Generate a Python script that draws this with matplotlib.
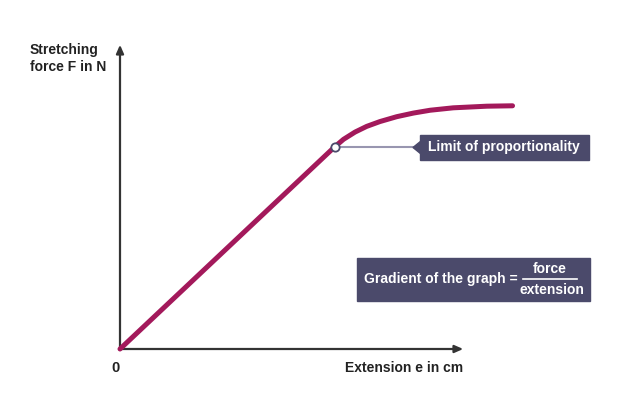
import matplotlib.pyplot as plt
from matplotlib.patches import Polygon

# force-extension curve (arbitrary units)
extension = [0, 5.0, 5.21, 5.48, 5.75, 6.06, 6.45, 6.84, 7.23, 7.77, 8.55, 9.15]
force = [0, 5.0, 5.19, 5.37, 5.51, 5.63, 5.75, 5.84, 5.91, 5.97, 6.01, 6.02]
limit_e = 5.0
limit_f = 5.0

x_label = "Extension e in cm"
y_label = "Stretching\nforce F in N"
limit_label = "Limit of proportionality"

curve_col = "#a3195b"
box_col = "#4b4a6b"
axis_col = "#333333"
fs = 10

plt.rcParams['font.family'] = ['Liberation Sans', 'DejaVu Sans']

fig = plt.figure(figsize=(6.24, 4.11), dpi=100)
ax = fig.add_axes([0, 0, 1, 1])
# pixel scale: 42.9 px per x unit, 40.4 px per y unit, origin at (120, 349)
ax.set_xlim(-120 / 42.9, 504 / 42.9)
ax.set_ylim(-62 / 40.4, 349 / 40.4)
ax.axis('off')

# axes with arrow heads
ax.annotate("", xy=(8.0, 0), xytext=(0, 0),
            arrowprops=dict(arrowstyle="-|>,head_length=0.5,head_width=0.22",
                            color=axis_col, lw=1.6, shrinkA=0, shrinkB=0))
ax.annotate("", xy=(0, 7.53), xytext=(0, 0),
            arrowprops=dict(arrowstyle="-|>,head_length=0.5,head_width=0.22",
                            color=axis_col, lw=1.6, shrinkA=0, shrinkB=0))

ax.plot(extension, force, color=curve_col, lw=3.6, solid_capstyle='round',
        solid_joinstyle='round', zorder=3)

# connector to label
ax.plot([limit_e, 6.85], [limit_f, limit_f], color="#9896b0", lw=1.5, zorder=2)
ax.plot([limit_e], [limit_f], marker='o', ms=6, mfc='white', mec=box_col,
        mew=1.3, zorder=4)

ax.text(-0.11, -0.47, "0", fontsize=fs + 0.5, fontweight='bold', color='#222222',
        ha='center', va='center')
ax.text(8.0, -0.47, x_label, fontsize=fs, fontweight='bold', color='#222222',
        ha='right', va='center')
fig.text(30 / 624, 1 - 43 / 411, y_label, fontsize=fs, fontweight='bold',
         color='#222222', ha='left', va='top', linespacing=1.3)

# label box for limit of proportionality
fig.patches.append(plt.Rectangle((420 / 624, 1 - 160 / 411), 169 / 624, 25 / 411,
                                 transform=fig.transFigure, color=box_col))
fig.patches.append(Polygon([(413 / 624, 1 - 147.5 / 411), (421 / 624, 1 - 141 / 411),
                            (421 / 624, 1 - 154 / 411)], closed=True,
                           transform=fig.transFigure, color=box_col))
fig.text(504 / 624, 1 - 147.5 / 411, limit_label, fontsize=fs, fontweight='bold',
         color='white', ha='center', va='center')

# gradient box
fig.patches.append(plt.Rectangle((357 / 624, 1 - 301 / 411), 233 / 624, 43 / 411,
                                 transform=fig.transFigure, color=box_col))
fig.text(364 / 624, 1 - 279 / 411, "Gradient of the graph =", fontsize=fs,
         fontweight='bold', color='white', ha='left', va='center')
fig.text(550 / 624, 1 - 269 / 411, "force", fontsize=fs, fontweight='bold',
         color='white', ha='center', va='center')
fig.text(552 / 624, 1 - 289.5 / 411, "extension", fontsize=fs, fontweight='bold',
         color='white', ha='center', va='center')
fig.lines.append(plt.Line2D([523 / 624, 577 / 624], [1 - 279 / 411, 1 - 279 / 411],
                            transform=fig.transFigure, color='white', lw=1.2))

fig.savefig("out.png", dpi=100, facecolor='white')
